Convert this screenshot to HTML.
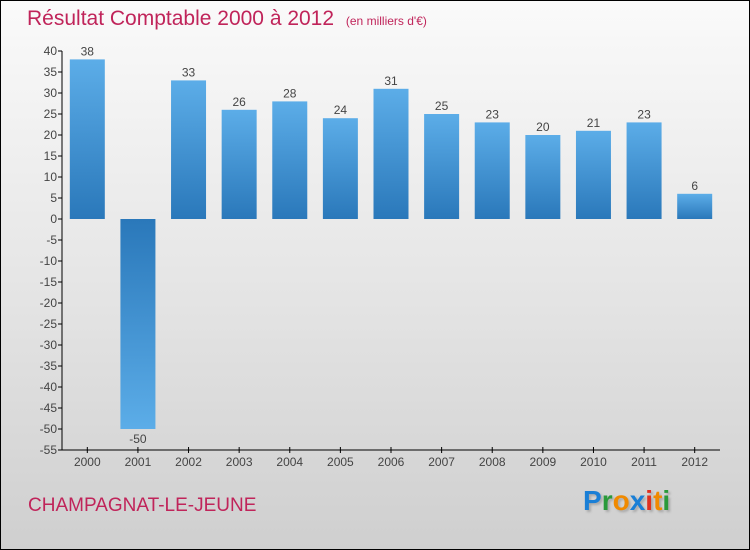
<!DOCTYPE html>
<html><head><meta charset="utf-8"><style>
body{margin:0}
#wrap{position:relative;width:748px;height:548px;border:1px solid #000;background:linear-gradient(#fafafa,#e6e6e6 50%,#cfcfcf);font-family:"Liberation Sans",sans-serif;overflow:hidden}
.t{position:absolute;color:#c0245a}
</style></head><body>
<div id="wrap">
<div class="t" style="left:26px;top:6px;font-size:21px">Résultat Comptable 2000 à 2012 <span style="font-size:12px;margin-left:6px">(en milliers d'€)</span></div>
<div class="t" style="left:27px;top:494px;font-size:19px">CHAMPAGNAT-LE-JEUNE</div>
<div style="position:absolute;left:582px;top:484px;font-size:28px;font-weight:bold;text-shadow:2px 2px 2px #aaa"><span style="color:#1a7fd6">P</span><span style="color:#2a9a3a">r</span><span style="color:#f08a00">o</span><span style="color:#1a7fd6">x</span><span style="color:#e03020">i</span><span style="color:#f08a00">t</span><span style="color:#2a9a3a">i</span></div>
<svg id="c" width="748" height="548" style="position:absolute;left:0;top:0">
<defs>
<linearGradient id="gp" x1="0" y1="0" x2="0" y2="1"><stop offset="0" stop-color="#5cade8"/><stop offset="1" stop-color="#2a78ba"/></linearGradient>
<linearGradient id="gn" x1="0" y1="0" x2="0" y2="1"><stop offset="0" stop-color="#2a78ba"/><stop offset="1" stop-color="#5cade8"/></linearGradient>
</defs>
</svg>
</div>
<script>
const years=["2000","2001","2002","2003","2004","2005","2006","2007","2008","2009","2010","2011","2012"];
const values=[38,-50,33,26,28,24,31,25,23,20,21,23,6];
const yTicks=[40,35,30,25,20,15,10,5,0,-5,-10,-15,-20,-25,-30,-35,-40,-45,-50,-55];
const svg=document.getElementById('c');const NS='http://www.w3.org/2000/svg';
const yMin=-55,yMax=40,pTop=50,pBot=449,pLeft=61,pRight=719;
const y=v=>pTop+(yMax-v)/(yMax-yMin)*(pBot-pTop);
const step=(pRight-pLeft)/years.length;
const x=i=>pLeft+step*(i+0.5);
function mk(t,a){const e=document.createElementNS(NS,t);for(const k in a)e.setAttribute(k,a[k]);svg.appendChild(e);return e;}
let e=mk('line',{x1:pLeft,x2:pLeft,y1:pTop,y2:pBot,stroke:'#000'});


e=mk('line',{x1:pLeft,x2:pRight,y1:pBot,y2:pBot,stroke:'#000'});


yTicks.forEach(v=>{
 mk('line',{x1:pLeft-4,x2:pLeft,y1:y(v),y2:y(v),stroke:'#000'});
 const t=mk('text',{x:pLeft-5,y:y(v)+4,'text-anchor':'end','font-size':12,fill:'#444','font-family':'Liberation Sans'});
 t.textContent=v;
 
 
});
years.forEach((yr,i)=>{
 const v=values[i],cx=x(i),w=35;
 mk('line',{x1:cx,x2:cx,y1:pBot-3,y2:pBot+3,stroke:'#000'});
 const r=mk('rect',{x:cx-w/2,y:Math.min(y(v),y(0)),width:w,height:Math.abs(y(v)-y(0)),fill:v>=0?'url(#gp)':'url(#gn)'});
 
 
 const l=mk('text',{x:cx,y:v>=0?y(v)-4:y(v)+14,'text-anchor':'middle','font-size':12,fill:'#444','font-family':'Liberation Sans'});
 l.textContent=v;
 
 
 const xl=mk('text',{x:cx,y:pBot+16,'text-anchor':'middle','font-size':12,fill:'#444','font-family':'Liberation Sans'});
 xl.textContent=yr;
 
 
});
</script>
</body></html>
